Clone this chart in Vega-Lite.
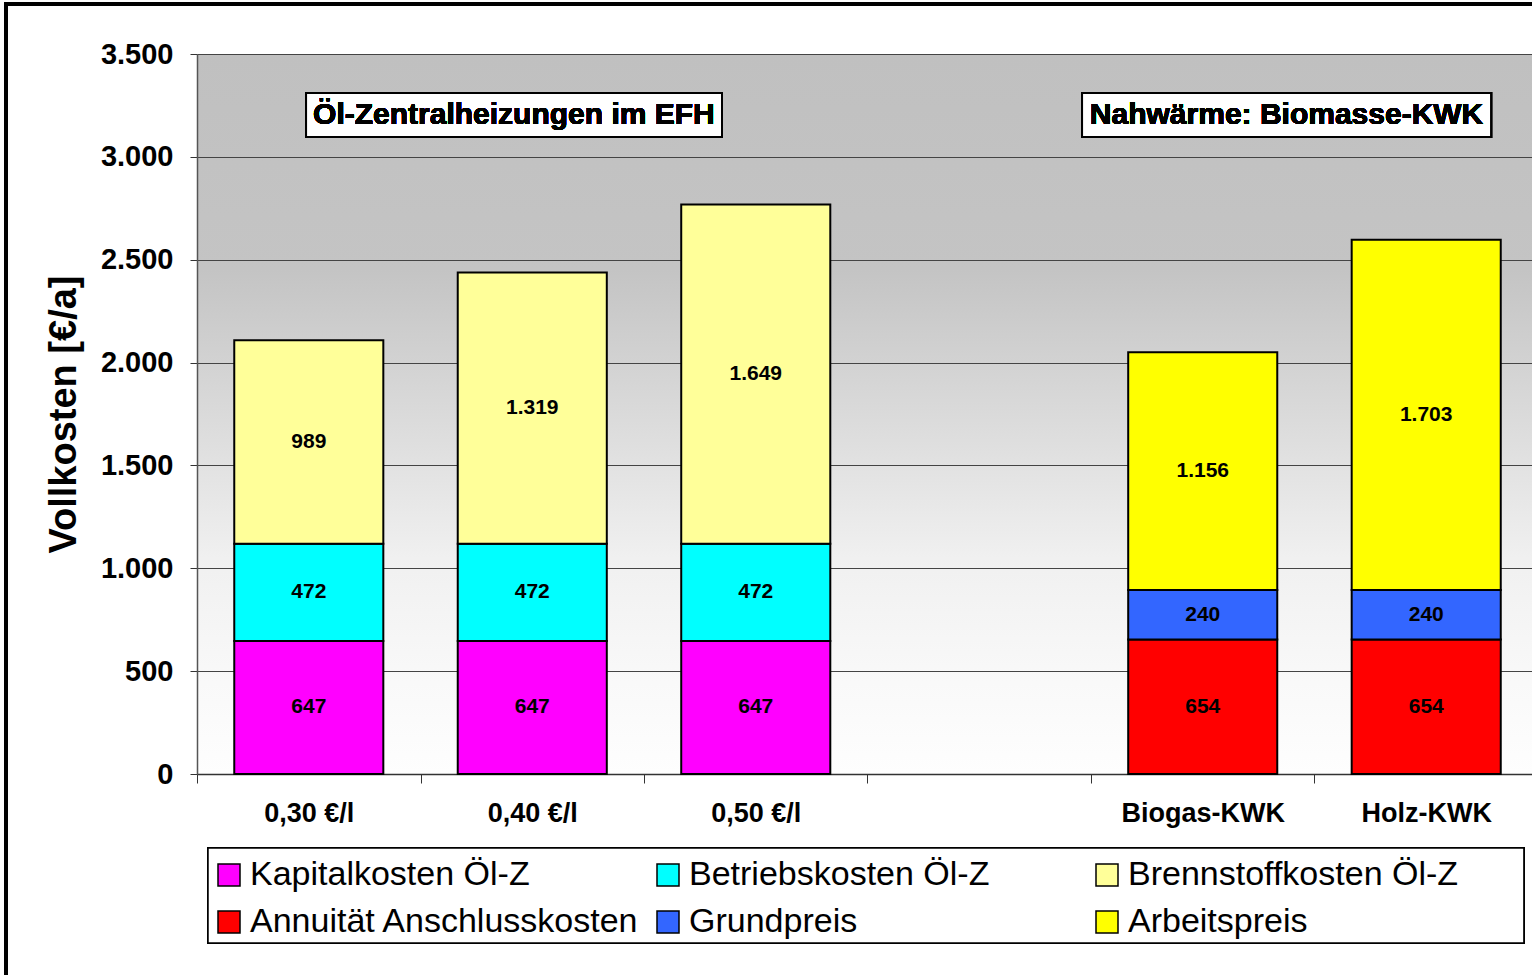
{
  "$schema": "https://vega.github.io/schema/vega-lite/v6.json",
  "width": 1335,
  "height": 720,
  "autosize": {"type": "none"},
  "padding": {"left": 197, "top": 54, "right": 0, "bottom": 201},
  "background": "#ffffff",
  "config": {
    "font": "Liberation Sans",
    "locale": {"number": {"decimal": ",", "thousands": ".", "grouping": [3], "currency": ["", " €"]}},
    "view": {
      "stroke": null,
      "fill": {"gradient": "linear", "x1": 0, "y1": 0, "x2": 0, "y2": 1,
        "stops": [
          {"offset": 0, "color": "#c0c0c0"},
          {"offset": 0.3, "color": "#c4c4c4"},
          {"offset": 0.5, "color": "#dadada"},
          {"offset": 0.7, "color": "#f0f0f0"},
          {"offset": 0.85, "color": "#f8f8f8"},
          {"offset": 1, "color": "#fefefe"}
        ]}
    }
  },
  "data": {
    "values": [
      {"cat": "0,30 €/l", "comp": "Kapitalkosten Öl-Z", "value": 647, "ord": 1},
      {"cat": "0,30 €/l", "comp": "Betriebskosten Öl-Z", "value": 472, "ord": 2},
      {"cat": "0,30 €/l", "comp": "Brennstoffkosten Öl-Z", "value": 989, "ord": 3},
      {"cat": "0,40 €/l", "comp": "Kapitalkosten Öl-Z", "value": 647, "ord": 1},
      {"cat": "0,40 €/l", "comp": "Betriebskosten Öl-Z", "value": 472, "ord": 2},
      {"cat": "0,40 €/l", "comp": "Brennstoffkosten Öl-Z", "value": 1319, "ord": 3},
      {"cat": "0,50 €/l", "comp": "Kapitalkosten Öl-Z", "value": 647, "ord": 1},
      {"cat": "0,50 €/l", "comp": "Betriebskosten Öl-Z", "value": 472, "ord": 2},
      {"cat": "0,50 €/l", "comp": "Brennstoffkosten Öl-Z", "value": 1649, "ord": 3},
      {"cat": "Biogas-KWK", "comp": "Annuität Anschlusskosten", "value": 654, "ord": 1},
      {"cat": "Biogas-KWK", "comp": "Grundpreis", "value": 240, "ord": 2},
      {"cat": "Biogas-KWK", "comp": "Arbeitspreis", "value": 1156, "ord": 3},
      {"cat": "Holz-KWK", "comp": "Annuität Anschlusskosten", "value": 654, "ord": 1},
      {"cat": "Holz-KWK", "comp": "Grundpreis", "value": 240, "ord": 2},
      {"cat": "Holz-KWK", "comp": "Arbeitspreis", "value": 1703, "ord": 3}
    ]
  },
  "resolve": {"scale": {"x": "independent"}},
  "layer": [
    {
      "layer": [
        {
          "mark": {"type": "bar", "stroke": "#000000", "strokeWidth": 2},
          "encoding": {
            "x": {
              "field": "cat", "type": "nominal", "sort": null,
              "scale": {"domain": ["0,30 €/l", "0,40 €/l", "0,50 €/l", "", "Biogas-KWK", "Holz-KWK"], "range": [0, 1341], "paddingInner": 0.333, "paddingOuter": 0.1667},
              "axis": {
                "title": null, "labelAngle": 0, "labelFontSize": 27, "labelFontWeight": "bold", "labelColor": "#000000",
                "labelPadding": 17, "tickOffset": -111.75, "labelOffset": 111.75, "tickSize": 9, "tickColor": "#333333", "domainColor": "#333333", "domainWidth": 1.5, "grid": false
              }
            },
            "y": {
              "field": "value", "type": "quantitative", "stack": "zero",
              "scale": {"domain": [0, 3500], "nice": false},
              "axis": {
                "title": "Vollkosten [€/a]", "titleFontSize": 38, "titleFontWeight": "bold", "titleColor": "#000000", "titlePadding": 17,
                "values": [0, 500, 1000, 1500, 2000, 2500, 3000, 3500], "format": ",d",
                "labelFontSize": 29, "labelFontWeight": "bold", "labelColor": "#000000", "labelPadding": 17,
                "tickSize": 7, "tickColor": "#333333", "domainColor": "#555555", "domainWidth": 1.5,
                "grid": true, "gridColor": "#444444", "gridWidth": 1
              }
            },
            "color": {
              "field": "comp", "type": "nominal",
              "scale": {
                "domain": ["Kapitalkosten Öl-Z", "Betriebskosten Öl-Z", "Brennstoffkosten Öl-Z", "Annuität Anschlusskosten", "Grundpreis", "Arbeitspreis"],
                "range": ["#ff00ff", "#00ffff", "#ffff99", "#ff0000", "#3366ff", "#ffff00"]
              },
              "legend": {
                "title": " ", "titleFontSize": 1, "titlePadding": 5,
                "orient": "none", "legendX": 11, "legendY": 794,
                "columns": 3, "direction": "horizontal", "gridAlign": "all",
                "columnPadding": 11, "rowPadding": 13, "padding": 4,
                "labelFontSize": 34, "labelColor": "#000000", "labelOffset": 4, "labelLimit": 700,
                "symbolType": "square", "symbolSize": 484, "symbolStrokeColor": "#000000", "symbolStrokeWidth": 1.5, "symbolOpacity": 1,
                "strokeColor": null, "fillColor": null
              }
            },
            "order": {"field": "ord", "type": "quantitative"}
          }
        },
        {
          "transform": [
            {"stack": "value", "groupby": ["cat"], "sort": [{"field": "ord"}], "as": ["v0", "v1"]},
            {"fold": ["v0", "v1"], "as": ["edge", "pos"]}
          ],
          "mark": {"type": "text", "fontSize": 21, "fontWeight": "bold", "color": "#000000", "baseline": "middle", "align": "center"},
          "encoding": {
            "x": {"field": "cat", "type": "nominal", "sort": null},
            "y": {"field": "pos", "type": "quantitative", "aggregate": "mean"},
            "detail": {"field": "comp"},
            "text": {"field": "value", "type": "quantitative", "aggregate": "max", "format": ",d"}
          }
        }
      ]
    },
    {
      "layer": [
        {
          "mark": {"type": "rect", "fill": "#ffffff", "stroke": "#000000", "strokeWidth": 2},
          "encoding": {
            "x": {"datum": 0.488, "type": "quantitative", "scale": {"domain": [0, 6], "range": [0, 1341]}, "axis": null},
            "x2": {"datum": 2.349},
            "y": {"datum": 3310, "type": "quantitative"},
            "y2": {"datum": 3097}
          }
        },
        {
          "mark": {"type": "text", "text": "Öl-Zentralheizungen im EFH", "fontSize": 30, "fontWeight": "bold", "color": "#000000", "align": "center", "baseline": "middle"},
          "encoding": {
            "x": {"datum": 1.418, "type": "quantitative"},
            "y": {"datum": 3203, "type": "quantitative"}
          }
        },
        {
          "mark": {"type": "rect", "fill": "#ffffff", "stroke": "#000000", "strokeWidth": 2},
          "encoding": {
            "x": {"datum": 3.96, "type": "quantitative"},
            "x2": {"datum": 5.79},
            "y": {"datum": 3310, "type": "quantitative"},
            "y2": {"datum": 3097}
          }
        },
        {
          "mark": {"type": "text", "text": "Nahwärme: Biomasse-KWK", "fontSize": 30, "fontWeight": "bold", "color": "#000000", "align": "center", "baseline": "middle"},
          "encoding": {
            "x": {"datum": 4.875, "type": "quantitative"},
            "y": {"datum": 3203, "type": "quantitative"}
          }
        },
        {
          "mark": {"type": "rect", "fill": "#ffffff", "stroke": "#000000", "strokeWidth": 1.5, "clip": false},
          "encoding": {
            "x": {"datum": 0.0492, "type": "quantitative"},
            "x2": {"datum": 5.937},
            "y": {"datum": -359.7, "type": "quantitative"},
            "y2": {"datum": -821.5}
          }
        },
        {
          "mark": {"type": "rect", "fill": null, "stroke": "#000000", "strokeWidth": 3, "clip": false},
          "encoding": {
            "x": {"datum": -0.8546, "type": "quantitative"},
            "x2": {"datum": 7},
            "y": {"datum": 3743, "type": "quantitative"},
            "y2": {"datum": -1100}
          }
        }
      ]
    }
  ]
}
